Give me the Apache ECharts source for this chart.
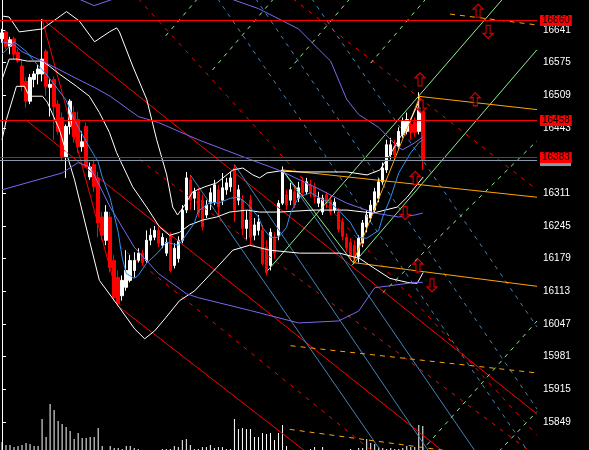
<!DOCTYPE html>
<html><head><meta charset="utf-8">
<script src="https://cdn.jsdelivr.net/npm/echarts@6/dist/echarts.min.js"></script>
<style>html,body{margin:0;padding:0;background:#000}#c{width:589px;height:450px}</style>
</head><body><div id="c"></div>
<script>
// ---- data ----
const opens  = [16623,16637,16608,16623,16596,16568,16537,16497,16541,16552,16552,16598,16525,16541,16491,16464,16385,16446,16474,16460,16405,16446,16344,16369,16342,16263,16216,16263,16175,16141,16104,16121,16135,16155,16175,16190,16175,16216,16222,16236,16206,16190,16226,16165,16179,16216,16277,16338,16301,16314,16297,16267,16291,16293,16318,16297,16318,16324,16362,16297,16297,16240,16297,16226,16236,16236,16202,16165,16220,16226,16291,16308,16297,16314,16301,16334,16314,16328,16324,16291,16273,16308,16297,16277,16273,16253,16222,16212,16206,16182,16210,16243,16261,16277,16301,16334,16358,16389,16405,16405,16430,16436,16450,16454,16436,16476];
const closes = [16635,16608,16621,16592,16578,16527,16497,16545,16552,16562,16582,16527,16531,16486,16436,16385,16446,16497,16425,16405,16415,16364,16364,16324,16251,16226,16273,16161,16100,16088,16135,16155,16175,16175,16190,16171,16216,16226,16236,16210,16222,16212,16155,16200,16216,16277,16342,16297,16314,16271,16243,16287,16312,16328,16283,16322,16332,16342,16277,16318,16240,16257,16222,16247,16253,16169,16151,16232,16190,16291,16358,16287,16318,16287,16322,16312,16334,16312,16303,16301,16301,16291,16273,16293,16238,16224,16200,16182,16179,16220,16251,16267,16287,16314,16334,16362,16409,16409,16389,16436,16456,16460,16434,16434,16484,16379];
const lows   = [16615,16602,16592,16582,16574,16517,16484,16491,16525,16531,16537,16507,16466,16419,16430,16375,16342,16430,16413,16393,16395,16362,16338,16314,16222,16216,16206,16151,16094,16084,16094,16114,16131,16141,16171,16165,16171,16206,16216,16202,16200,16184,16151,16159,16171,16210,16271,16277,16277,16263,16236,16261,16277,16287,16267,16287,16308,16314,16253,16287,16226,16216,16206,16216,16226,16165,16145,16155,16179,16216,16287,16277,16287,16281,16293,16303,16308,16303,16291,16283,16267,16281,16267,16271,16232,16216,16192,16175,16169,16171,16202,16232,16253,16271,16293,16328,16352,16379,16379,16399,16423,16430,16419,16425,16430,16358];
const highs  = [16643,16641,16627,16627,16602,16582,16545,16552,16558,16570,16663,16602,16541,16547,16499,16474,16450,16501,16486,16476,16436,16454,16373,16379,16354,16273,16287,16273,16186,16155,16145,16196,16186,16192,16200,16196,16236,16240,16245,16243,16230,16220,16232,16210,16224,16287,16354,16348,16322,16322,16308,16297,16322,16338,16328,16352,16342,16354,16369,16328,16308,16277,16308,16261,16267,16247,16216,16240,16232,16297,16365,16318,16332,16326,16334,16344,16342,16338,16332,16314,16308,16314,16306,16301,16281,16261,16230,16220,16216,16226,16257,16277,16297,16322,16342,16373,16419,16423,16419,16444,16464,16474,16464,16464,16515,16491];
const volumes = [8,5,5,3,4,5,7,6,4,4,31,13,46,40,29,26,23,19,11,17,12,12,13,13,22,4,0,4,2,2,1,4,4,2,1,0,0,0,0,0,1,1,1,4,3,10,11,5,1,1,3,3,5,2,3,3,1,1,31,21,22,21,21,13,13,17,16,17,10,17,25,4,0,0,0,0,0,1,3,0,3,0,0,0,0,0,0,1,0,2,2,11,7,6,3,2,1,2,1,1,2,4,3,3,25,24];
const slotCount = 134; // bars + right chart shift
const categories = Array.from({length: slotCount}, (_, k) => String(k));
const yTickLabels = [15849,15915,15981,16047,16113,16179,16245,16311,16377,16443,16509,16575,16641,16707];
const levelLines = [16660, 16458, 16383];
const bidLevel = 16377;
// indicator lines, [bar index, price]
const fastMA = [[0,16592],[2,16608],[3,16617],[6,16598],[8,16578],[11,16552],[13,16531],[16,16499],[18,16460],[21,16415],[24,16374],[25,16344],[27,16301],[29,16232],[30,16180],[31,16149],[33,16139],[34,16145],[36,16169],[39,16192],[41,16212],[44,16206],[45,16216],[48,16251],[49,16275],[52,16293],[54,16291],[57,16301],[59,16303],[61,16291],[64,16263],[65,16242],[67,16222],[69,16222],[71,16242],[72,16271],[74,16303],[77,16312],[79,16303],[82,16291],[84,16277],[87,16251],[89,16222],[91,16220],[94,16236],[95,16263],[97,16303],[99,16352],[102,16393],[104,16413],[105,16419]];
const slowMid = [[0,16617],[3,16611],[5,16597],[10,16578],[14,16562],[19,16541],[23,16525],[27,16507],[34,16466],[39,16454],[49,16419],[62,16379],[69,16358],[78,16324],[86,16291],[93,16271],[99,16263],[103,16267],[105,16271]];
const slowLow = [[0,16318],[15,16352],[19,16373],[22,16364],[27,16283],[33,16202],[39,16149],[46,16108],[49,16100],[62,16074],[74,16049],[84,16053],[89,16073],[93,16120],[103,16131],[105,16131]];
const slowUpA = [[16,16760],[19,16704],[23,16690],[28,16704],[31,16760]];
const slowUpB = [[52,16760],[57,16704],[64,16684],[74,16643],[79,16602],[82,16578],[86,16501],[89,16470],[94,16444],[99,16403],[100,16399],[103,16413],[105,16425]];
const whiteUp = [[0,16669],[1.8,16667],[4.3,16637],[10.1,16643],[16.1,16678],[19.3,16659],[23.1,16617],[26.8,16637],[28.6,16645],[29.3,16637],[32.6,16568],[36.1,16501],[38.6,16419],[41.1,16348],[42.6,16283],[43.8,16267],[45.6,16287],[47.6,16314],[50.6,16324],[53.6,16332],[57.6,16358],[60.1,16362],[62.6,16348],[64.3,16342],[66.1,16352],[69.3,16356],[74.3,16354],[86.1,16354],[91.1,16348],[94.3,16358],[96.8,16389],[99.3,16423],[101.8,16456],[104.3,16501]];
const whiteMid = [[0,16541],[1.8,16582],[3.8,16582],[6.3,16578],[10.1,16578],[11.8,16568],[14.3,16552],[18.6,16527],[21.8,16507],[24.3,16474],[26.8,16434],[28.6,16393],[32.6,16324],[36.1,16283],[39.3,16243],[41.8,16226],[44.3,16232],[46.8,16247],[50.1,16257],[53.6,16263],[56.8,16273],[61.1,16277],[64.3,16273],[69.3,16273],[77.6,16277],[86.1,16277],[92.6,16271],[98.6,16283],[101.1,16303],[105.1,16344]];
const whiteLow = [[0,16419],[1.1,16460],[3.6,16527],[5.6,16527],[6.8,16507],[10.1,16507],[11.3,16495],[14.3,16440],[18.1,16338],[21.8,16216],[24.3,16135],[29.3,16080],[33.1,16037],[35.6,16017],[38.1,16033],[40.6,16057],[44.3,16094],[48.1,16114],[53.6,16161],[57.6,16196],[61.8,16206],[66.8,16196],[74.3,16190],[84.3,16190],[89.3,16179],[92.6,16161],[96.8,16139],[101.1,16131],[103.6,16129],[105.1,16151]];
const redSolidLines = [
  [[10,16663],[29.5,16084]],
  [[10,16663],[133.5,15865]],
  [[5.8,16460],[133.5,15639]],
  [[28.8,16084],[75.8,15789]]
];
const redDashedLines = [
  [[34,16704],[133.5,15822]],
  [[72.6,16704],[133.5,16318]],
  [[29.3,16204],[133.5,15520]],
  [[34.3,16379],[133.5,15779]]
];
const blueSolidLines = [
  [[47,16348],[94.3,15793]],
  [[58,16369],[106.5,15789.5]],
  [[70,16358],[118.1,15789.5]]
];
const blueDashedLines = [
  [[53.8,16704],[133.5,15763]],
  [[63.3,16704],[133.5,15875]],
  [[77.3,16704],[133.5,16041]]
];
const greenSolidLines = [
  [[66.3,16155],[125,16704]],
  [[87.3,16165],[133.5,16601]],
  [[70,16358],[87.6,16171]]
];
const greenDashedLines = [
  [[48.8,16704],[40,16621]],
  [[67.8,16704],[52.3,16558]],
  [[86.8,16704],[71.8,16562]],
  [[105.8,16704],[92,16574]],
  [[95,16110],[133.5,16417]],
  [[104.6,15789.5],[133.5,16053]],
  [[124,15789.5],[133.5,15870]]
];
const orangeSolidLines = [
  [[70,16358],[133.5,16303]],
  [[103.8,16507],[133.5,16480]],
  [[87.6,16171],[133.5,16123]],
  [[87.6,16171],[104.3,16507]]
];
const orangeDashedLines = [
  [[72,16003],[133.5,15948]],
  [[71.8,15834],[112.6,15789]],
  [[111.8,16673],[133.5,16651]]
];
const arrowsUp = [[104.3,16541],[118.1,16501],[118.8,16680],[103.1,16342],[103.8,16165]];
const arrowsDown = [[121.3,16637],[104.6,16486],[100.6,16271],[107.3,16125]];

// ---- chart ----
const chart = echarts.init(document.getElementById('c'), null, {renderer:'canvas'});
const Y_MIN = 15792.3, Y_MAX = 16707.47;
function seg(pts, color, type, z) {
  return {type:'line', xAxisIndex:1, yAxisIndex:0, data:pts, symbol:'none', silent:true, animation:false,
    lineStyle:{color:color, width:1, type:type||'solid'}, z:z||3, clip:true};
}
const series = [];
series.push({type:'candlestick', xAxisIndex:0, yAxisIndex:0, animation:false, barWidth:3, z:2,
  data: opens.map((o,k)=>[o, closes[k], lows[k], highs[k]]),
  itemStyle:{color:'#ffffff', color0:'#ff0000', borderColor:'#ffffff', borderColor0:'#ff0000', borderWidth:1}});
series.push({type:'bar', xAxisIndex:2, yAxisIndex:1, data:volumes, barWidth:1, animation:false,
  itemStyle:{color:'#ffffff'}, silent:true});
redSolidLines.forEach(l=>series.push(seg(l,'#ff0000')));
redDashedLines.forEach(l=>series.push(seg(l,'#ff0000',[4,6])));
blueSolidLines.forEach(l=>series.push(seg(l,'#4682b4')));
blueDashedLines.forEach(l=>series.push(seg(l,'#4682b4',[4,5])));
greenSolidLines.forEach(l=>series.push(seg(l,'#90ee90')));
greenDashedLines.forEach(l=>series.push(seg(l,'#90ee90',[4,5])));
orangeSolidLines.forEach(l=>series.push(seg(l,'#ffa500')));
orangeDashedLines.forEach(l=>series.push(seg(l,'#ffa500',[5,5])));
series.push(seg(whiteUp,'#ffffff'));
series.push(seg(whiteMid,'#ffffff'));
series.push(seg(whiteLow,'#ffffff'));
series.push(seg(slowMid,'#7b68ee'));
series.push(seg(slowLow,'#7b68ee'));
series.push(seg(slowUpA,'#7b68ee'));
series.push(seg(slowUpB,'#7b68ee'));
series.push(seg(fastMA,'#2f8fef'));
// horizontal levels
series.push({type:'line', xAxisIndex:1, yAxisIndex:0, data:[], animation:false, z:4,
  markLine:{silent:true, symbol:'none', animation:false,
    data:[{yAxis:bidLevel}],
    lineStyle:{color:'#8a9aa8', width:1, type:'solid', opacity:1},
    label:{show:true, position:'end', distance:3, formatter:'', backgroundColor:'#8a9aa8', padding:[1,3], fontSize:9, color:'#8a9aa8', width:25, height:9, lineHeight:9}}});
series.push({type:'line', xAxisIndex:1, yAxisIndex:0, data:[], animation:false, z:5,
  markLine:{silent:true, symbol:'none', animation:false,
    data: levelLines.map(v=>({yAxis:v})),
    lineStyle:{color:'#ff0000', width:1, type:'solid', opacity:1},
    emphasis:{disabled:true},
    label:{show:true, position:'end', distance:3, formatter:p=>String(p.value), backgroundColor:'#ff0000',
      color:'#000', fontSize:10, fontFamily:'Liberation Sans', padding:[0,2,0,2], lineHeight:11}}});
const upPath = 'path://M5,0 L10,5 L7,5 L7,13 L3,13 L3,5 L0,5 Z';
const downPath = 'path://M3,0 L7,0 L7,8 L10,8 L5,13 L0,8 L3,8 Z';
series.push({type:'scatter', xAxisIndex:1, yAxisIndex:0, data:arrowsUp, symbol:upPath, symbolSize:[10,13], z:6, animation:false,
  itemStyle:{color:'#000', borderColor:'#ff0000', borderWidth:1.2}});
series.push({type:'scatter', xAxisIndex:1, yAxisIndex:0, data:arrowsDown, symbol:downPath, symbolSize:[10,13], z:6, animation:false,
  itemStyle:{color:'#000', borderColor:'#ff0000', borderWidth:1.2}});

chart.setOption({
  backgroundColor:'#000000',
  animation:false,
  grid:[{left:0, right:52, top:-3, bottom:0, containLabel:false, outerBoundsMode:'none'},
        {left:0, right:52, bottom:0, height:100, outerBoundsMode:'none'}],
  xAxis:[
    {type:'category', gridIndex:0, data:categories, boundaryGap:true, show:false},
    {type:'value', gridIndex:0, min:-0.5, max:slotCount-0.5, show:false},
    {type:'category', gridIndex:1, data:categories, boundaryGap:true, show:false}
  ],
  yAxis:[
    {type:'value', gridIndex:0, position:'right', min:Y_MIN, max:Y_MAX, scale:true,
      axisLine:{show:true, lineStyle:{color:'#ffffff', width:1}},
      axisTick:{show:true, customValues:yTickLabels, length:4, lineStyle:{color:'#ffffff'}},
      axisLabel:{show:true, customValues:yTickLabels, formatter:v=>String(v), color:'#ffffff', fontSize:10, fontFamily:'Liberation Sans', margin:6},
      splitLine:{show:false}},
    {type:'value', gridIndex:1, min:0, max:100, show:false}
  ],
  series: series
});
</script></body></html>
